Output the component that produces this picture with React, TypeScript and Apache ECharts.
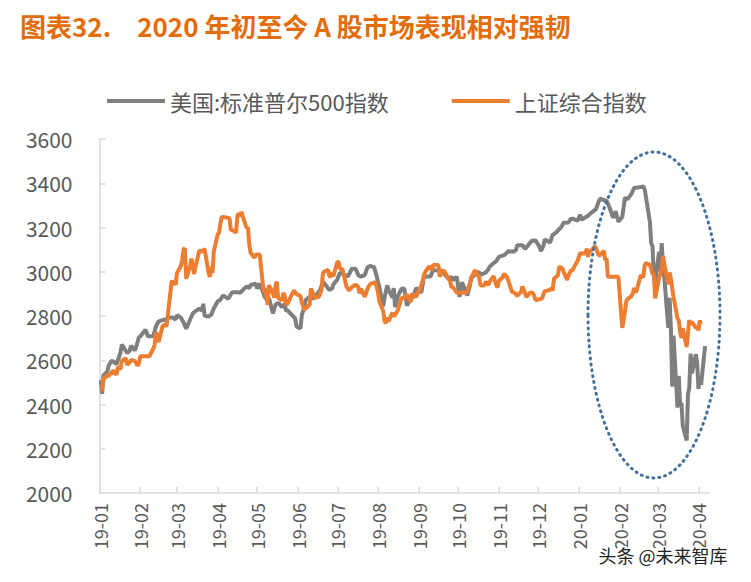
import React, { useEffect, useRef } from "react";
import * as echarts from "echarts";

const titleText = "图表32.\u30002020 年初至今 A 股市场表现相对强韧";
const seriesNames = ["美国:标准普尔500指数", "上证综合指数"];
const monthTicks = ["19-01","19-02","19-03","19-04","19-05","19-06","19-07","19-08","19-09","19-10","19-11","19-12","20-01","20-02","20-03","20-04"];
const yTicks = [2000, 2200, 2400, 2600, 2800, 3000, 3200, 3400, 3600];

// 美国:标准普尔500指数
const sp500: [string, number][] = [
  ["19-01-02",2510],["19-01-03",2448],["19-01-04",2532],["19-01-07",2550],["19-01-08",2575],["19-01-10",2597],["19-01-11",2596],["19-01-14",2583],["19-01-16",2617],["19-01-17",2636],["19-01-18",2671],["19-01-22",2633],["19-01-24",2643],["19-01-25",2665],["19-01-28",2644],["19-01-30",2682],["19-01-31",2704],
  ["19-02-01",2707],["19-02-05",2738],["19-02-07",2707],["19-02-08",2708],["19-02-11",2710],["19-02-13",2754],["19-02-15",2776],["19-02-20",2785],["19-02-21",2775],["19-02-22",2793],["19-02-26",2793],["19-02-28",2784],
  ["19-03-01",2804],["19-03-04",2792],["19-03-06",2771],["19-03-08",2743],["19-03-11",2784],["19-03-13",2811],["19-03-15",2822],["19-03-18",2833],["19-03-20",2824],["19-03-21",2855],["19-03-22",2801],["19-03-25",2798],["19-03-27",2805],["19-03-29",2834],
  ["19-04-01",2867],["19-04-03",2873],["19-04-05",2893],["19-04-09",2878],["19-04-12",2907],["19-04-16",2907],["19-04-18",2905],["19-04-23",2934],["19-04-25",2926],["19-04-26",2940],["19-04-30",2946],
  ["19-05-01",2924],["19-05-03",2946],["19-05-07",2884],["19-05-09",2871],["19-05-10",2881],["19-05-13",2812],["19-05-15",2851],["19-05-17",2860],["19-05-20",2840],["19-05-22",2856],["19-05-23",2822],["19-05-24",2826],["19-05-28",2802],["19-05-30",2788],["19-05-31",2752],
  ["19-06-03",2744],["19-06-04",2803],["19-06-06",2843],["19-06-07",2873],["19-06-10",2886],["19-06-12",2879],["19-06-14",2887],["19-06-18",2917],["19-06-20",2954],["19-06-21",2950],["19-06-25",2917],["19-06-27",2924],["19-06-28",2942],
  ["19-07-01",2964],["19-07-03",2996],["19-07-05",2990],["19-07-09",2979],["19-07-11",3000],["19-07-12",3014],["19-07-15",3014],["19-07-17",2985],["19-07-19",2977],["19-07-22",2986],["19-07-24",3020],["19-07-26",3026],["19-07-29",3021],["19-07-31",2980],
  ["19-08-01",2954],["19-08-02",2932],["19-08-05",2844],["19-08-06",2882],["19-08-08",2938],["19-08-09",2919],["19-08-12",2883],["19-08-13",2926],["19-08-14",2840],["19-08-16",2889],["19-08-19",2923],["19-08-21",2924],["19-08-23",2847],["19-08-26",2878],["19-08-28",2887],["19-08-30",2926],
  ["19-09-03",2906],["19-09-05",2977],["19-09-06",2979],["19-09-10",2979],["19-09-12",3009],["19-09-13",3007],["19-09-17",3006],["19-09-19",3006],["19-09-20",2992],["19-09-24",2966],["19-09-26",2977],["19-09-27",2962],["19-09-30",2977],
  ["19-10-02",2887],["19-10-03",2910],["19-10-04",2952],["19-10-08",2893],["19-10-10",2938],["19-10-11",2970],["19-10-15",2995],["19-10-17",2998],["19-10-18",2986],["19-10-22",2996],["19-10-24",3010],["19-10-25",3023],["19-10-28",3039],["19-10-30",3047],
  ["19-11-01",3067],["19-11-05",3075],["19-11-07",3085],["19-11-08",3093],["19-11-12",3091],["19-11-14",3097],["19-11-15",3120],["19-11-19",3120],["19-11-21",3104],["19-11-22",3110],["19-11-26",3140],["19-11-29",3141],
  ["19-12-02",3113],["19-12-03",3093],["19-12-05",3118],["19-12-06",3146],["19-12-10",3132],["19-12-12",3168],["19-12-13",3169],["19-12-17",3192],["19-12-19",3205],["19-12-20",3221],["19-12-24",3223],["19-12-26",3240],["19-12-27",3240],["19-12-31",3231],
  ["20-01-02",3258],["20-01-03",3235],["20-01-06",3246],["20-01-08",3253],["20-01-10",3265],["20-01-14",3283],["20-01-16",3317],["20-01-17",3330],["20-01-21",3321],["20-01-22",3321],["20-01-24",3295],["20-01-27",3244],["20-01-29",3273],["20-01-31",3226],
  ["20-02-03",3249],["20-02-05",3334],["20-02-07",3328],["20-02-10",3352],["20-02-12",3380],["20-02-14",3380],["20-02-19",3386],["20-02-20",3373],["20-02-21",3338],["20-02-24",3226],["20-02-25",3128],["20-02-26",3116],["20-02-27",2979],["20-02-28",2954],
  ["20-03-02",3090],["20-03-03",3003],["20-03-04",3130],["20-03-05",3024],["20-03-06",2972],["20-03-09",2747],["20-03-10",2882],["20-03-11",2741],["20-03-12",2481],["20-03-13",2711],["20-03-16",2386],["20-03-17",2529],["20-03-18",2398],["20-03-19",2409],["20-03-20",2305],["20-03-23",2237],["20-03-24",2447],["20-03-25",2476],["20-03-26",2630],["20-03-27",2541],["20-03-30",2627],["20-03-31",2585],
  ["20-04-01",2471],["20-04-02",2527],["20-04-03",2489],["20-04-06",2664],
];

// 上证综合指数 (holiday closures carry the last close)
const shComposite: [string, number][] = [
  ["19-01-02",2465],["19-01-03",2464],["19-01-04",2514],["19-01-07",2533],["19-01-08",2526],["19-01-09",2544],["19-01-10",2535],["19-01-11",2554],["19-01-14",2535],["19-01-15",2570],["19-01-17",2560],["19-01-18",2596],["19-01-21",2610],["19-01-22",2579],["19-01-24",2591],["19-01-25",2601],["19-01-28",2597],["19-01-30",2575],["19-01-31",2585],
  ["19-02-01",2618],["19-02-08",2618],["19-02-11",2653],["19-02-12",2671],["19-02-13",2721],["19-02-14",2720],["19-02-15",2682],["19-02-18",2755],["19-02-20",2761],["19-02-21",2751],["19-02-22",2804],["19-02-25",2961],["19-02-26",2941],["19-02-27",2954],["19-02-28",2941],
  ["19-03-01",2994],["19-03-04",3027],["19-03-05",3055],["19-03-06",3102],["19-03-07",3106],["19-03-08",2969],["19-03-11",3026],["19-03-12",3060],["19-03-13",3026],["19-03-14",2990],["19-03-15",3021],["19-03-18",3096],["19-03-20",3091],["19-03-22",3104],["19-03-25",2997],["19-03-26",2977],["19-03-27",3022],["19-03-28",2994],["19-03-29",3091],
  ["19-04-01",3170],["19-04-02",3176],["19-04-03",3216],["19-04-04",3247],["19-04-08",3245],["19-04-10",3241],["19-04-11",3189],["19-04-12",3189],["19-04-15",3177],["19-04-16",3253],["19-04-17",3263],["19-04-18",3251],["19-04-19",3271],["19-04-22",3215],["19-04-23",3198],["19-04-24",3201],["19-04-25",3124],["19-04-26",3086],["19-04-29",3063],["19-04-30",3078],
  ["19-05-03",3078],["19-05-06",2906],["19-05-07",2926],["19-05-08",2893],["19-05-09",2850],["19-05-10",2939],["19-05-13",2903],["19-05-14",2883],["19-05-15",2939],["19-05-16",2955],["19-05-17",2882],["19-05-20",2870],["19-05-21",2905],["19-05-22",2892],["19-05-23",2853],["19-05-24",2853],["19-05-27",2892],["19-05-29",2915],["19-05-31",2899],
  ["19-06-03",2890],["19-06-04",2862],["19-06-06",2828],["19-06-10",2852],["19-06-11",2925],["19-06-12",2909],["19-06-14",2882],["19-06-17",2887],["19-06-19",2917],["19-06-20",2987],["19-06-21",3001],["19-06-24",3008],["19-06-25",2982],["19-06-26",2976],["19-06-27",2997],["19-06-28",2979],
  ["19-07-01",3044],["19-07-02",3044],["19-07-03",3015],["19-07-05",3012],["19-07-08",2933],["19-07-10",2915],["19-07-12",2930],["19-07-15",2942],["19-07-17",2931],["19-07-18",2902],["19-07-19",2924],["19-07-22",2886],["19-07-24",2923],["19-07-26",2944],["19-07-30",2953],["19-07-31",2933],
  ["19-08-01",2908],["19-08-02",2868],["19-08-05",2821],["19-08-06",2777],["19-08-07",2768],["19-08-08",2794],["19-08-09",2775],["19-08-12",2815],["19-08-13",2797],["19-08-16",2824],["19-08-19",2883],["19-08-21",2880],["19-08-23",2898],["19-08-26",2863],["19-08-27",2902],["19-08-30",2886],
  ["19-09-02",2924],["19-09-04",2957],["19-09-05",2985],["19-09-06",2999],["19-09-09",3024],["19-09-11",3008],["19-09-12",3031],["19-09-16",3030],["19-09-17",2979],["19-09-19",2999],["19-09-20",3006],["19-09-23",2978],["19-09-25",2955],["19-09-26",2929],["19-09-27",2932],["19-09-30",2905],
  ["19-10-07",2905],["19-10-08",2914],["19-10-10",2947],["19-10-11",2973],["19-10-14",3008],["19-10-15",2991],["19-10-17",2977],["19-10-18",2938],["19-10-21",2939],["19-10-22",2955],["19-10-24",2940],["19-10-25",2954],["19-10-28",2980],["19-10-30",2940],["19-10-31",2929],
  ["19-11-01",2958],["19-11-04",2975],["19-11-05",2991],["19-11-07",2978],["19-11-08",2964],["19-11-11",2909],["19-11-13",2905],["19-11-15",2891],["19-11-18",2910],["19-11-19",2933],["19-11-21",2903],["19-11-22",2886],["19-11-25",2907],["19-11-27",2903],["19-11-28",2890],["19-11-29",2872],
  ["19-12-02",2876],["19-12-04",2879],["19-12-05",2900],["19-12-06",2912],["19-12-10",2918],["19-12-11",2925],["19-12-12",2915],["19-12-13",2968],["19-12-16",2984],["19-12-17",3022],["19-12-19",3017],["19-12-20",3005],["19-12-23",2963],["19-12-24",2982],["19-12-26",3007],["19-12-27",3005],["19-12-30",3040],["19-12-31",3050],
  ["20-01-02",3085],["20-01-03",3083],["20-01-06",3083],["20-01-07",3105],["20-01-08",3067],["20-01-09",3095],["20-01-10",3092],["20-01-13",3116],["20-01-14",3106],["20-01-15",3090],["20-01-16",3074],["20-01-17",3075],["20-01-20",3095],["20-01-21",3053],["20-01-22",3061],["20-01-23",2977],["20-01-31",2977],
  ["20-02-03",2746],["20-02-04",2784],["20-02-05",2818],["20-02-06",2867],["20-02-07",2876],["20-02-10",2890],["20-02-11",2902],["20-02-12",2927],["20-02-13",2906],["20-02-14",2917],["20-02-17",2984],["20-02-19",2975],["20-02-20",3030],["20-02-21",3039],["20-02-24",3031],["20-02-25",3013],["20-02-26",2988],["20-02-27",2992],["20-02-28",2880],
  ["20-03-02",2971],["20-03-03",2992],["20-03-04",3012],["20-03-05",3071],["20-03-06",3035],["20-03-09",2943],["20-03-10",2997],["20-03-11",2968],["20-03-12",2924],["20-03-13",2887],["20-03-16",2789],["20-03-17",2780],["20-03-18",2728],["20-03-19",2702],["20-03-20",2745],["20-03-23",2660],["20-03-24",2722],["20-03-25",2781],["20-03-26",2765],["20-03-27",2772],["20-03-30",2747],["20-03-31",2750],
  ["20-04-01",2735],["20-04-02",2780],["20-04-03",2764],
];

const toTs = (s: string) => {
  const p = s.split("-");
  return Date.UTC(2000 + Number(p[0]), Number(p[1]) - 1, p[2] ? Number(p[2]) : 1);
};

const FONT = "'Noto Sans CJK SC', 'Noto Sans', sans-serif";
const TEXT_GRAY = "#595959";
const AXIS_GRAY = "#D9D9D9";

export default function App() {
  const ref = useRef<HTMLDivElement>(null);
  useEffect(() => {
    if (!ref.current) return;
    const chart = echarts.init(ref.current, undefined, { renderer: "svg" });
    const tickValues = monthTicks.map((m) => toTs(m));
    const labelFor = (v: number) => {
      const i = tickValues.findIndex((t) => Math.abs(t - v) < 43200000);
      return i >= 0 ? monthTicks[i] : "";
    };
    chart.setOption({
      animation: false,
      backgroundColor: "#ffffff",
      title: {
        text: titleText,
        left: 20,
        top: 12,
        padding: 0,
        textStyle: { color: "#E46C0A", fontSize: 26, fontWeight: "bold", fontFamily: FONT },
      },
      legend: {
        left: 107,
        top: 90,
        padding: 0,
        itemWidth: 58,
        itemHeight: 4,
        itemGap: 63,
        icon: "rect",
        textStyle: { color: TEXT_GRAY, fontSize: 22, fontFamily: FONT },
        data: seriesNames,
      },
      grid: { left: 99.5, right: 42, top: 139, bottom: 89, containLabel: false },
      xAxis: {
        type: "value",
        min: toTs("19-01-01"),
        max: toTs("20-04-09"),
        splitLine: { show: false },
        axisLine: { show: true, lineStyle: { color: AXIS_GRAY, width: 1.5 } },
        axisTick: { show: true, inside: true, length: 6, customValues: tickValues, lineStyle: { color: AXIS_GRAY, width: 1.5 } },
        axisLabel: {
          customValues: tickValues,
          rotate: 90,
          margin: 10,
          color: TEXT_GRAY,
          fontSize: 18,
          fontFamily: FONT,
          formatter: (v: number) => labelFor(v),
        },
      },
      yAxis: {
        type: "value",
        min: yTicks[0],
        max: yTicks[yTicks.length - 1],
        interval: 200,
        splitLine: { show: false },
        axisLine: { show: true, lineStyle: { color: AXIS_GRAY, width: 1.5 } },
        axisTick: { show: true, inside: true, length: 6, lineStyle: { color: AXIS_GRAY, width: 1.5 } },
        axisLabel: { color: TEXT_GRAY, fontSize: 21, margin: 27, fontFamily: FONT, formatter: (v: number) => String(v) },
      },
      series: [
        {
          name: seriesNames[0],
          type: "line",
          showSymbol: false,
          symbol: "none",
          color: "#7F7F7F",
          lineStyle: { color: "#7F7F7F", width: 4 },
          data: sp500.map(([d, v]) => [toTs(d), v]),
          z: 2,
        },
        {
          name: seriesNames[1],
          type: "line",
          showSymbol: false,
          symbol: "none",
          color: "#ED7D31",
          lineStyle: { color: "#ED7D31", width: 4 },
          data: shComposite.map(([d, v]) => [toTs(d), v]),
          z: 3,
        },
      ],
      graphic: [
        {
          type: "ellipse",
          shape: { cx: 654, cy: 315, rx: 66, ry: 163 },
          style: { fill: "none", stroke: "#41719C", lineWidth: 3, lineDash: [1, 5], lineCap: "round" },
          z: 10,
        },
        {
          type: "text",
          left: 597,
          top: 544,
          style: { text: "头条 @未来智库", fill: "#222222", fontSize: 18, fontFamily: FONT, stroke: "#ffffff", lineWidth: 3 },
          z: 10,
        },
      ],
    });
    return () => chart.dispose();
  }, []);
  return <div ref={ref} style={{ position: "fixed", left: 0, top: 0, width: 751, height: 582 }} />;
}
